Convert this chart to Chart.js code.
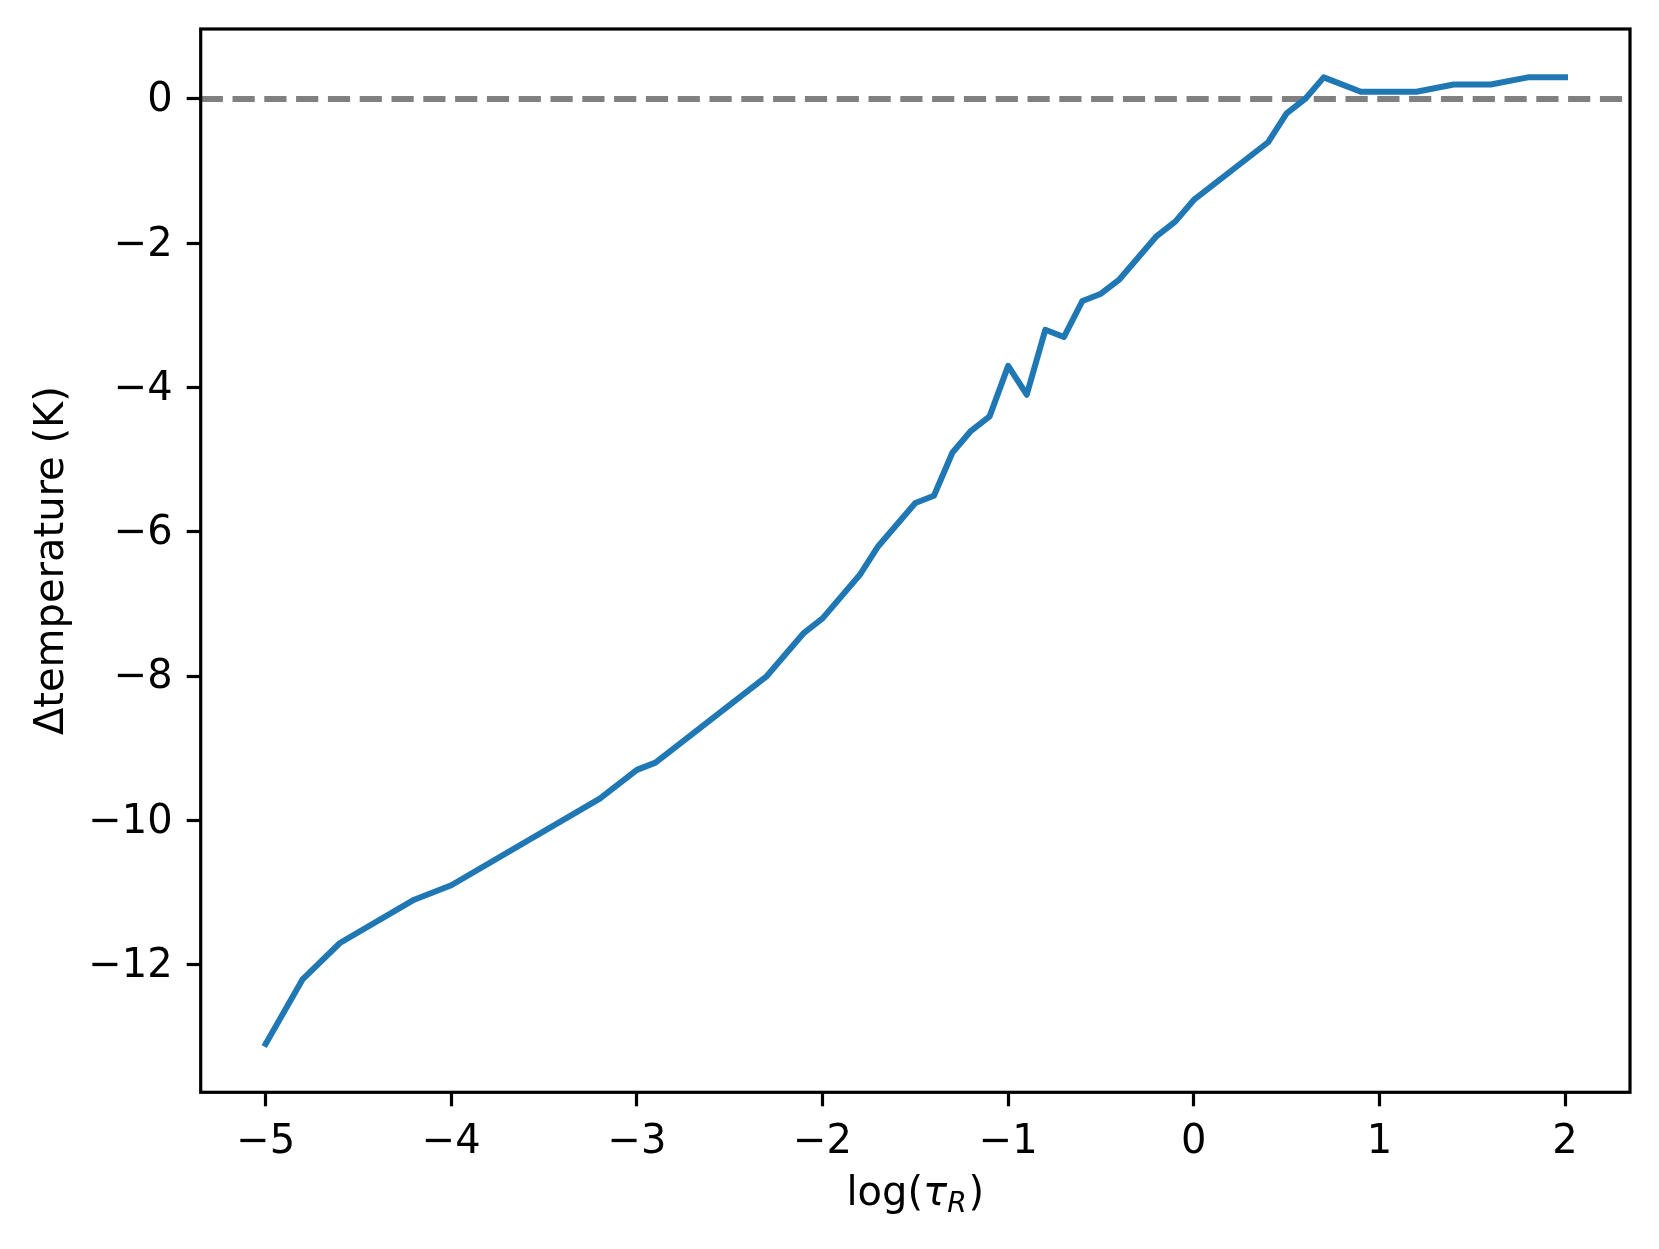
<!DOCTYPE html>
<html>
<head>
<meta charset="utf-8">
<script src="https://cdn.jsdelivr.net/npm/chart.js@4.4.1/dist/chart.umd.min.js"></script>
<style>
  html, body { margin: 0; padding: 0; background: #ffffff; }
  #wrap { width: 1659px; height: 1249px; }
</style>
</head>
<body>
<div id="wrap"><canvas id="c" width="1659" height="1249"></canvas></div>
<script>
// ---- data ----
const logTau = [-5.0, -4.8, -4.6, -4.2, -4.0, -3.2, -3.0, -2.9, -2.3, -2.1, -2.0, -1.8, -1.7, -1.5, -1.4, -1.3, -1.2, -1.1, -1.0, -0.9, -0.8, -0.7, -0.6, -0.5, -0.4, -0.2, -0.1, 0.0, 0.4, 0.5, 0.6, 0.7, 0.9, 1.2, 1.4, 1.6, 1.8, 2.0];
const deltaT = [-13.1, -12.2, -11.7, -11.1, -10.9, -9.7, -9.3, -9.2, -8.0, -7.4, -7.2, -6.6, -6.2, -5.6, -5.5, -4.9, -4.6, -4.4, -3.7, -4.1, -3.2, -3.3, -2.8, -2.7, -2.5, -1.9, -1.7, -1.4, -0.6, -0.2, 0.0, 0.3, 0.1, 0.1, 0.2, 0.2, 0.3, 0.3];
const xTicks = [-5, -4, -3, -2, -1, 0, 1, 2];
const yTicks = [-12, -10, -8, -6, -4, -2, 0];
const xLimits = [-5.35, 2.35];
const yLimits = [-13.77, 0.97];
const referenceLevel = 0;
const yLabel = 'Δtemperature (K)';
const xLabelParts = ['log(', 'τ', 'R', ')'];

const FONT = "'DejaVu Sans', sans-serif";
const fmt = v => (v < 0 ? '\u2212' + Math.abs(v) : String(v));

const points = logTau.map((x, i) => ({ x: x, y: deltaT[i] }));

const framePlugin = {
  id: 'frame',
  beforeDatasetsDraw(chart) {
    const { ctx, chartArea: a, scales } = chart;
    const y = scales.y.getPixelForValue(referenceLevel);
    ctx.save();
    ctx.beginPath();
    ctx.rect(a.left, a.top, a.right - a.left, a.bottom - a.top);
    ctx.clip();
    ctx.strokeStyle = '#808080';
    ctx.lineWidth = 6;
    ctx.lineCap = 'butt';
    ctx.setLineDash([22.2, 9.6]);
    ctx.beginPath();
    ctx.moveTo(a.left, y);
    ctx.lineTo(a.right, y);
    ctx.stroke();
    ctx.restore();
  },
  afterDraw(chart) {
    const { ctx, chartArea: a } = chart;
    ctx.save();
    // spines
    ctx.strokeStyle = '#000000';
    ctx.lineWidth = 3.2;
    ctx.lineJoin = 'miter';
    ctx.setLineDash([]);
    ctx.strokeRect(a.left, a.top, a.right - a.left, a.bottom - a.top);

    ctx.fillStyle = '#000000';
    // x label: log(τ_R)
    const fN = '40px ' + FONT;
    const fI = 'italic 40px ' + FONT;
    const fS = 'italic 28px ' + FONT;
    const fonts = [fN, fI, fS, fN];
    const shifts = [0, 0, 7, 0];
    let widths = xLabelParts.map((t, i) => { ctx.font = fonts[i]; return ctx.measureText(t).width; });
    widths[2] += 2;
    const total = widths.reduce((s, w) => s + w, 0);
    let x = (a.left + a.right) / 2 - total / 2;
    const base = 1205;
    ctx.textAlign = 'left';
    ctx.textBaseline = 'alphabetic';
    xLabelParts.forEach((t, i) => {
      ctx.font = fonts[i];
      ctx.fillText(t, x, base + shifts[i]);
      x += widths[i];
    });

    // y label
    ctx.font = fN;
    ctx.translate(63, (a.top + a.bottom) / 2);
    ctx.rotate(-Math.PI / 2);
    ctx.textAlign = 'center';
    ctx.textBaseline = 'alphabetic';
    ctx.fillText(yLabel, 0, 0);
    ctx.restore();
  }
};

new Chart(document.getElementById('c'), {
  type: 'line',
  data: {
    datasets: [{
      data: points,
      borderColor: '#1f77b4',
      borderWidth: 6,
      pointRadius: 0,
      tension: 0,
      fill: false,
      borderCapStyle: 'square',
      borderJoinStyle: 'round'
    }]
  },
  options: {
    responsive: false,
    devicePixelRatio: 1,
    animation: false,
    layout: { padding: { top: 29, right: 29, bottom: 0, left: 0 } },
    plugins: { legend: { display: false }, tooltip: { enabled: false }, title: { display: false } },
    scales: {
      x: {
        type: 'linear',
        min: xLimits[0],
        max: xLimits[1],
        afterBuildTicks: s => { s.ticks = xTicks.map(v => ({ value: v })); },
        afterFit: s => { s.height = 156.7; s.paddingLeft = 0; s.paddingRight = 0; s.paddingTop = 0; s.paddingBottom = 0; },
        ticks: {
          callback: v => fmt(v),
          font: { family: FONT, size: 40 },
          color: '#000000',
          padding: 12,
          maxRotation: 0,
          autoSkip: false
        },
        grid: { display: true, drawOnChartArea: false, drawTicks: true, tickLength: 14, tickWidth: 3.2, tickColor: '#000000' },
        border: { display: false }
      },
      y: {
        type: 'linear',
        min: yLimits[0],
        max: yLimits[1],
        afterBuildTicks: s => { s.ticks = yTicks.map(v => ({ value: v })); },
        afterFit: s => { s.width = 200.7; s.paddingLeft = 0; s.paddingRight = 0; s.paddingTop = 0; s.paddingBottom = 0; },
        ticks: {
          callback: v => fmt(v),
          font: { family: FONT, size: 40 },
          color: '#000000',
          padding: 14,
          labelOffset: 2,
          autoSkip: false
        },
        grid: { display: true, drawOnChartArea: false, drawTicks: true, tickLength: 14, tickWidth: 3.2, tickColor: '#000000' },
        border: { display: false }
      }
    }
  },
  plugins: [framePlugin]
});
</script>
</body>
</html>
